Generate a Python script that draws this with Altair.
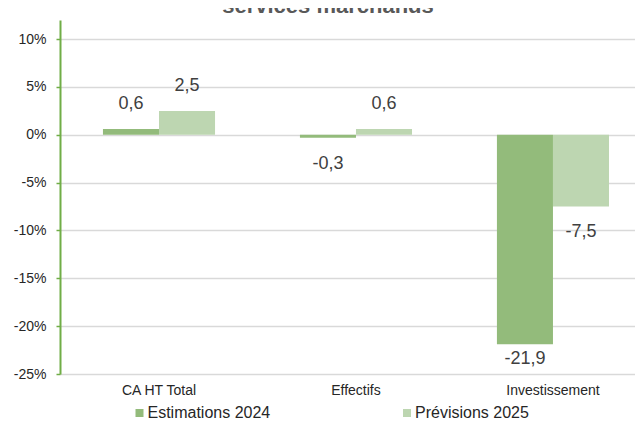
import altair as alt
import pandas as pd

categories = ["CA HT Total", "Effectifs", "Investissement"]
series = ["Estimations 2024", "Prévisions 2025"]
est_2024 = [0.6, -0.3, -21.9]
prev_2025 = [2.5, 0.6, -7.5]
colors = ["#93BB7B", "#BDD6B1"]
y_ticks = [-25, -20, -15, -10, -5, 0, 5, 10]
title_text = "services marchands"

rows = []
for s, vals in zip(series, [est_2024, prev_2025]):
    for c, v in zip(categories, vals):
        rows.append({"cat": c, "series": s, "value": v,
                     "label": f"{v:.1f}".replace(".", ",")})
df = pd.DataFrame(rows)

x_enc = alt.X("cat:N", sort=categories, title=None,
              scale=alt.Scale(paddingInner=0.431, paddingOuter=0.175, align=0.623),
              axis=alt.Axis(domain=False, ticks=False, labelAngle=0, labelPadding=9,
                            labelFont="Liberation Sans", labelFontSize=14,
                            labelColor="#262626", grid=False))
xoff = alt.XOffset("series:N", sort=series,
                   scale=alt.Scale(paddingInner=0, paddingOuter=0))

yscale = alt.Scale(domain=[-25, 12], nice=False, zero=False)
yaxis = alt.Axis(values=y_ticks, labelExpr="datum.value + '%'",
                 domainColor="#70AD47", domainWidth=2,
                 tickColor="#70AD47", tickSize=4, tickWidth=1.5,
                 gridColor="#D9D9D9", gridWidth=1.5,
                 labelFont="Liberation Sans", labelFontSize=14,
                 labelColor="#262626", labelPadding=10)

base = alt.Chart(df).encode(x=x_enc, xOffset=xoff)

bars = base.mark_bar().encode(
    y=alt.Y("value:Q", scale=yscale, title=None, axis=yaxis),
    color=alt.Color("series:N", sort=series,
                    scale=alt.Scale(domain=series, range=colors),
                    legend=alt.Legend(orient="none", legendX=71.5, legendY=385,
                                      direction="horizontal", title=None,
                                      symbolType="square", symbolSize=64,
                                      symbolStrokeWidth=0, labelFontSize=16,
                                      labelFont="Liberation Sans",
                                      labelColor="#262626", columnPadding=128.5,
                                      labelOffset=0, padding=0)),
)

labels = base.transform_calculate(
    ly="datum.value >= 0 ? datum.value + 2.6 : max(datum.value - 2.7, -23.4)"
).mark_text(baseline="middle", font="Liberation Sans", fontSize=18,
            color="#404040").encode(
    y=alt.Y("ly:Q", scale=yscale, title=None, axis=yaxis),
    text="label:N",
)

title = alt.Chart(pd.DataFrame({"t": [title_text]})).mark_text(
    font="Liberation Sans", fontSize=22, fontWeight="bold", color="#595959",
    baseline="alphabetic", align="center"
).encode(text="t:N", x=alt.value(268), y=alt.value(-7))

chart = alt.layer(bars, labels, title).properties(
    width=575, height=354,
    padding={"left": 52, "top": 12, "right": 0, "bottom": 48},
    autosize=alt.AutoSizeParams(type="none"),
).configure_view(stroke=None)

chart.save("out.html", embed_options={"renderer": "svg", "actions": False})
